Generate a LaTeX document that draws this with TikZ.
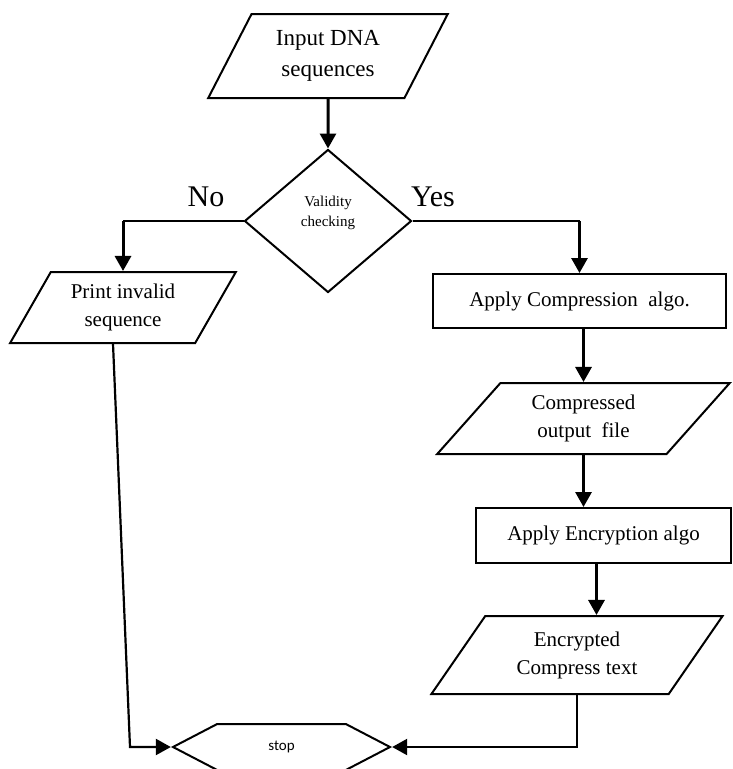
\documentclass[tikz,border=0pt]{standalone}
\usepackage{fontspec}
\setmainfont{Liberation Serif}
\newfontfamily\stopfont{Carlito}
\usepackage{tikz}
\usetikzlibrary{positioning, arrows.meta, shapes.geometric, shapes.symbols, calc}

\begin{document}
\begin{tikzpicture}[x=1pt, y=-1pt,
	flowline/.style={line width=2.2pt},
	flowarrow/.style={line width=3pt, -{Triangle[width=16pt,length=15pt]}},
	iobox/.style={draw, line width=2pt, trapezium, trapezium stretches=true, align=center, inner sep=0pt, font=\fontsize{21}{28}\selectfont},
	stepbox/.style={draw, line width=2pt, rectangle, align=center, inner sep=0pt, font=\fontsize{21}{28}\selectfont},
	decisionbox/.style={draw, line width=2pt, diamond, align=center, inner sep=0pt, font=\fontsize{15}{20}\selectfont},
	endbox/.style={draw, line width=2pt, signal, signal to=east and west, signal pointer angle=55, inner sep=0pt, font=\stopfont\fontsize{15}{18}\selectfont},
	branchlabel/.style={font=\fontsize{30}{34}\selectfont}]
	
	\useasboundingbox (0,0) rectangle (733,769);
	
	%Nodes of the main column
	\node (inputDNA) at (328,56) [iobox, trapezium left angle=60, trapezium right angle=120, minimum width=240pt, minimum height=84pt, font=\fontsize{23}{31}\selectfont]{Input DNA\\sequences};
	
	\node (validity) at (328,221) [decisionbox, minimum width=167pt, minimum height=143pt, text depth=20pt]{Validity\\checking};
	
	\node (noLabel) at (206,197) [branchlabel]{No};
	
	\node (yesLabel) at (433,197) [branchlabel]{Yes};
	
	%Nodes of the left branch
	\node (printInvalid) at (123,307.5) [iobox, trapezium left angle=58, trapezium right angle=122, minimum width=226pt, minimum height=71pt]{Print invalid\\sequence};
	
	%Nodes of the right branch
	\node (compression) at (579.5,301) [stepbox, minimum width=293pt, minimum height=54pt]{Apply Compression\ \ algo.};
	
	\node (compressedFile) at (583.5,418.5) [iobox, trapezium left angle=50, trapezium right angle=130, minimum width=293pt, minimum height=71pt]{Compressed\\output\ \ file};
	
	\node (encryption) at (603.5,535.5) [stepbox, minimum width=255pt, minimum height=55pt]{Apply Encryption algo};
	
	\node (encryptedText) at (577,655) [iobox, trapezium left angle=53, trapezium right angle=127, minimum width=292pt, minimum height=78pt]{Encrypted\\Compress text};
	
	%End node
	\node (stop) at (281.5,747) [endbox, minimum width=217pt, minimum height=46pt]{stop};
	
	\coordinate (leftCorner) at (130,747);
	
	%Links
	\draw[flowarrow] (inputDNA.south) -- (validity.north);
	
	\draw[flowline] (validity.west) -- (validity.west -| printInvalid.north);
	\draw[flowarrow] (validity.west -| printInvalid.north) -- (printInvalid.north);
	
	\draw[flowline] (validity.east) -- (validity.east -| compression.north);
	\draw[flowarrow] (validity.east -| compression.north) -- (compression.north);
	
	\draw[flowarrow] (compressedFile.north |- compression.south) -- (compressedFile.north);
	
	\draw[flowarrow] (compressedFile.south) -- (compressedFile.south |- encryption.north);
	
	\draw[flowarrow] ([xshift=-7pt]encryption.south) -- ([xshift=-7pt]encryption.south |- encryptedText.north);
	
	\draw[flowline, -{Triangle[width=16pt,length=15pt]}] (encryptedText.south) |- (stop.east);
	
	\draw[flowline, -{Triangle[width=16pt,length=15pt]}] ([xshift=-10pt]printInvalid.south) -- (leftCorner) -- (stop.west);
	
\end{tikzpicture}
\end{document}
